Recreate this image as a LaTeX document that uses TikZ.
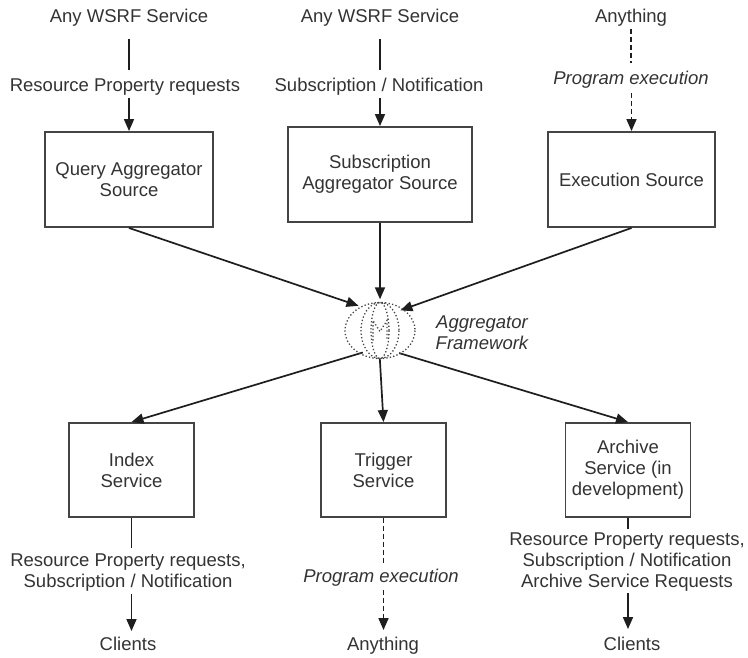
\documentclass[tikz,border=0pt]{standalone}
\usepackage{fontspec}
\setmainfont{Liberation Sans}
\usetikzlibrary{arrows.meta,shapes.geometric}
\definecolor{txt}{HTML}{333333}
\definecolor{ln}{HTML}{1E1E1E}
\definecolor{bx}{HTML}{444444}
\definecolor{dotc}{HTML}{444444}
\begin{document}
\begin{tikzpicture}[x=1pt,y=-1pt,
  every node/.style={text=txt, font=\fontsize{18.5}{21}\selectfont},
  ital/.style={font=\fontsize{18.5}{21}\selectfont\itshape},
  lbl/.style={inner sep=0pt, text height=13.5pt, text depth=4pt},
  mlbl/.style={inner sep=0pt, align=center},
  box/.style={draw=bx, line width=1.9pt, align=center, inner sep=0pt},
  conn/.style={draw=ln, line width=1.7pt},
  arr/.style={conn, -{Triangle[length=12pt,width=10pt]}},
  dsh/.style={dash pattern=on 5pt off 3pt},
  dotl/.style={draw=dotc, line width=1.3pt, dash pattern=on 1.3pt off 2.2pt}
]
\fill[white] (0,0) rectangle (748,657);
\useasboundingbox (0,0) rectangle (748,657);

% top labels
\node[lbl] (any1) at (129,18) {Any WSRF Service};
\node[lbl] (any2) at (380,18) {Any WSRF Service};
\node[lbl] (anyth) at (631,18) {Anything};
\node[lbl] (rp) at (125,87) {Resource Property requests};
\node[lbl] (sn) at (379,87) {Subscription / Notification};
\node[lbl,ital] (pe1) at (631,80) {Program execution};

% source boxes
\node[box, minimum width=168pt, minimum height=95pt] (qas) at (129,179.5) {Query Aggregator\\Source};
\node[box, minimum width=184pt, minimum height=95pt] (sas) at (380,174.5) {Subscription\\Aggregator Source};
\node[box, minimum width=167pt, minimum height=95pt] (es) at (631.5,179.5) {Execution Source};

% aggregator
\node[ellipse, minimum width=70pt, minimum height=62pt, inner sep=0pt] (agg) at (380,330.5) {};
\node[mlbl, ital] (agglbl) at (482,333) {Aggregator\\Framework};

% sink boxes
\node[box, minimum width=125pt, minimum height=94pt] (idx) at (131.5,470) {Index\\Service};
\node[box, minimum width=125pt, minimum height=94pt] (trg) at (383.5,470) {Trigger\\Service};
\node[box, minimum width=125pt, minimum height=94pt] (arc) at (628,470) {Archive\\Service (in\\development)};

% bottom labels
\node[mlbl] (bl) at (128,573) {Resource Property requests,\\Subscription / Notification};
\node[lbl] (cl1) at (128,646) {Clients};
\node[lbl,ital] (pe2) at (381,578) {Program execution};
\node[lbl] (anyth2) at (383,646) {Anything};
\node[mlbl] (rl) at (627,562) {Resource Property requests,\\Subscription / Notification\\Archive Service Requests};
\node[lbl] (cl2) at (632,646) {Clients};

% top connectors
\draw[conn, shorten <=12pt, shorten >=8pt] (any1.south) -- (any1.south |- rp.north);
\draw[arr, shorten <=2pt] (rp.south -| qas.north) -- (qas.north);
\draw[conn, shorten <=12pt, shorten >=8pt] (any2.south) -- (any2.south |- sn.north);
\draw[arr, shorten <=2pt] (sn.south -| sas.north) -- (sas.north);
\draw[conn, dsh, shorten <=2pt, shorten >=8pt] (anyth.south) -- (anyth.south |- pe1.north);
\draw[arr, dsh, shorten <=4pt] (pe1.south -| es.north) -- (es.north);

% into aggregator
\draw[arr] (qas.south) -- (agg.131);
\draw[arr] (sas.south) -- (agg.north);
\draw[arr, shorten >=-5pt] (es.south) -- (agg.41);

% out of aggregator
\draw[arr, shorten <=-6pt] (agg.226) -- (idx.north);
\draw[arr, shorten <=-3pt] (agg.south) -- (trg.north);
\draw[arr, shorten <=-4pt] (agg.314) -- (arc.north);

% bottom connectors
\draw[conn, shorten >=6pt] (idx.south) -- (idx.south |- bl.north);
\draw[arr, shorten <=2pt, shorten >=6pt] (bl.south -| idx.south) -- (idx.south |- cl1.north);
\draw[conn, dsh, shorten >=4pt] (trg.south) -- (trg.south |- pe2.north);
\draw[arr, dsh, shorten <=3pt, shorten >=7pt] (pe2.south -| trg.south) -- (trg.south |- anyth2.north);
\draw[conn, shorten >=4pt] (arc.south) -- (arc.south |- rl.north);
\draw[arr, shorten <=2pt, shorten >=8pt] (rl.south -| arc.south) -- (arc.south |- cl2.north);

% globe icon
\draw[dotl] (agg.center) ellipse (35 and 28);
\draw[dotl] (agg.center) ellipse (19 and 28);
\draw[dotl] (agg.center) ellipse (9 and 28);
\draw[dotl] ([shift={(-7,10)}]agg.center) -- ++(0,-20) -- ++(7,11) -- ++(7,-11) -- ++(0,20);
\end{tikzpicture}
\end{document}
